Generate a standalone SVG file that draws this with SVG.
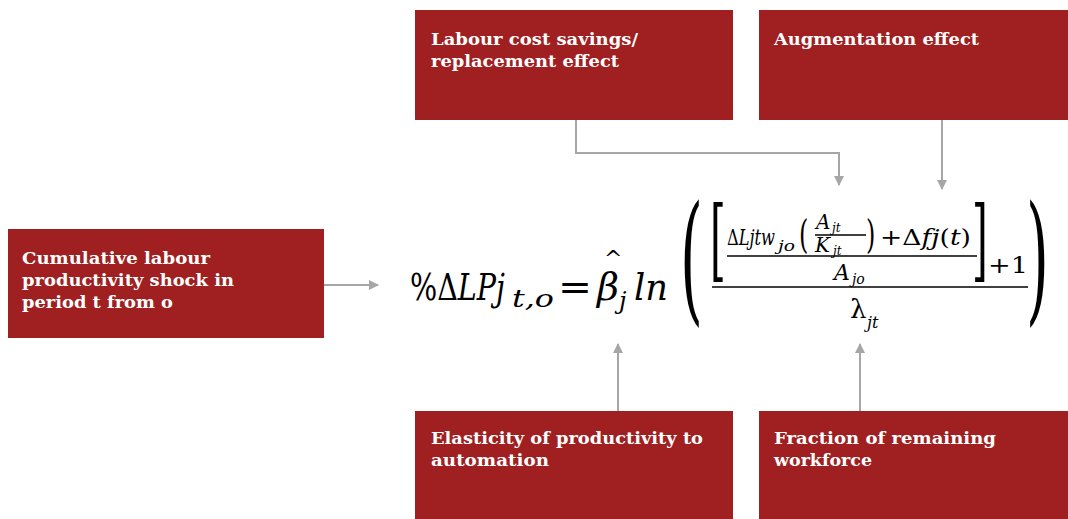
<svg xmlns="http://www.w3.org/2000/svg" width="1068" height="519" viewBox="0 0 1068 519">
<style>
.box{fill:#A01F21}
.lbl{font-family:"DejaVu Serif",serif;font-weight:bold;font-size:16px;fill:#ffffff}
.con{fill:none;stroke:#A6A6A6;stroke-width:2}
.m{font-family:"DejaVu Serif","Liberation Serif",serif;font-style:italic;fill:#000}
.u{font-style:normal}
.ln{stroke:#000;stroke-width:1.5}
</style>
<defs>
<marker id="ah" viewBox="0 0 10 10" refX="9" refY="5" markerWidth="5" markerHeight="5" orient="auto" markerUnits="strokeWidth">
<path d="M0,0 L10,5 L0,10 z" fill="#A6A6A6"/>
</marker>
</defs>
<rect width="1068" height="519" fill="#ffffff"/>
<g id="n-labour">
<rect class="box" x="415" y="10" width="318" height="110"/>
<text class="lbl" x="431" y="45" textLength="207" lengthAdjust="spacingAndGlyphs">Labour cost savings/</text>
<text class="lbl" x="431" y="67" textLength="188" lengthAdjust="spacingAndGlyphs">replacement effect</text>
</g>
<g id="n-augment">
<rect class="box" x="759" y="10" width="309" height="110"/>
<text class="lbl" x="774" y="45" textLength="205" lengthAdjust="spacingAndGlyphs">Augmentation effect</text>
</g>
<g id="n-cumulative">
<rect class="box" x="8" y="229" width="316" height="109"/>
<text class="lbl" x="22" y="264" textLength="188" lengthAdjust="spacingAndGlyphs">Cumulative labour</text>
<text class="lbl" x="22" y="286" textLength="212" lengthAdjust="spacingAndGlyphs">productivity shock in</text>
<text class="lbl" x="22" y="308" textLength="151" lengthAdjust="spacingAndGlyphs">period t from o</text>
</g>
<g id="n-elasticity">
<rect class="box" x="415" y="411" width="318" height="108"/>
<text class="lbl" x="431" y="444" textLength="272" lengthAdjust="spacingAndGlyphs">Elasticity of productivity to</text>
<text class="lbl" x="431" y="466" textLength="118" lengthAdjust="spacingAndGlyphs">automation</text>
</g>
<g id="n-fraction">
<rect class="box" x="759" y="411" width="309" height="108"/>
<text class="lbl" x="774" y="444" textLength="222" lengthAdjust="spacingAndGlyphs">Fraction of remaining</text>
<text class="lbl" x="774" y="466" textLength="98" lengthAdjust="spacingAndGlyphs">workforce</text>
</g>
<g id="connectors">
<path class="con" d="M576,120 V153 H839 V185" marker-end="url(#ah)"/>
<path class="con" d="M942,120 V189" marker-end="url(#ah)"/>
<path class="con" d="M324,285 H378" marker-end="url(#ah)"/>
<path class="con" d="M618,411 V344" marker-end="url(#ah)"/>
<path class="con" d="M860,411 V344" marker-end="url(#ah)"/>
</g>
<g id="formula">
<text class="m" x="410" y="300" font-size="38" textLength="95" lengthAdjust="spacingAndGlyphs"><tspan class="u">%Δ</tspan>LPj</text>
<text class="m" x="512" y="307" font-size="24" textLength="42" lengthAdjust="spacingAndGlyphs">t,o</text>
<text class="m u" x="558" y="300" font-size="38" textLength="34" lengthAdjust="spacingAndGlyphs">=</text>
<text class="m" x="597" y="300" font-size="38">β</text>
<text class="m u" x="604" y="266" font-size="22">^</text>
<text class="m" x="619" y="309" font-size="24">j</text>
<text class="m" x="634" y="300" font-size="38" textLength="34" lengthAdjust="spacingAndGlyphs">ln</text>
<text class="m u" font-size="140" transform="translate(680,306) scale(0.42,1)">(</text>
<text class="m u" font-size="140" transform="translate(1026,306) scale(0.42,1)">)</text>
<text class="m u" font-size="90" transform="translate(710,270) scale(0.45,1)">[</text>
<text class="m u" font-size="90" transform="translate(972,270) scale(0.45,1)">]</text>
<text class="m" x="727" y="245" font-size="22" textLength="48" lengthAdjust="spacingAndGlyphs"><tspan class="u">Δ</tspan>Ljtw</text>
<text class="m" x="778" y="251" font-size="15" textLength="17" lengthAdjust="spacingAndGlyphs">jo</text>
<text class="m u" font-size="40" transform="translate(799,248) scale(0.6,1)">(</text>
<text class="m" x="816" y="229" font-size="20">A</text>
<text class="m" x="832" y="232" font-size="12">jt</text>
<line class="ln" x1="815" y1="235" x2="866" y2="235"/>
<text class="m" x="815" y="252" font-size="20">K</text>
<text class="m" x="833" y="255" font-size="12">jt</text>
<text class="m u" font-size="40" transform="translate(866,248) scale(0.6,1)">)</text>
<text class="m" x="880" y="245" font-size="22" textLength="91" lengthAdjust="spacingAndGlyphs"><tspan class="u">+Δ</tspan>fj<tspan class="u">(</tspan>t<tspan class="u">)</tspan></text>
<line class="ln" x1="727" y1="256" x2="977" y2="256"/>
<text class="m" x="834" y="280" font-size="22">A</text>
<text class="m" x="852" y="284" font-size="14">jo</text>
<text class="m u" x="988" y="273" font-size="22" textLength="40" lengthAdjust="spacingAndGlyphs">+1</text>
<line class="ln" x1="712" y1="287" x2="1028" y2="287"/>
<text class="m u" x="850" y="318" font-size="26">λ</text>
<text class="m" x="867" y="328" font-size="16">jt</text>
</g>
</svg>
